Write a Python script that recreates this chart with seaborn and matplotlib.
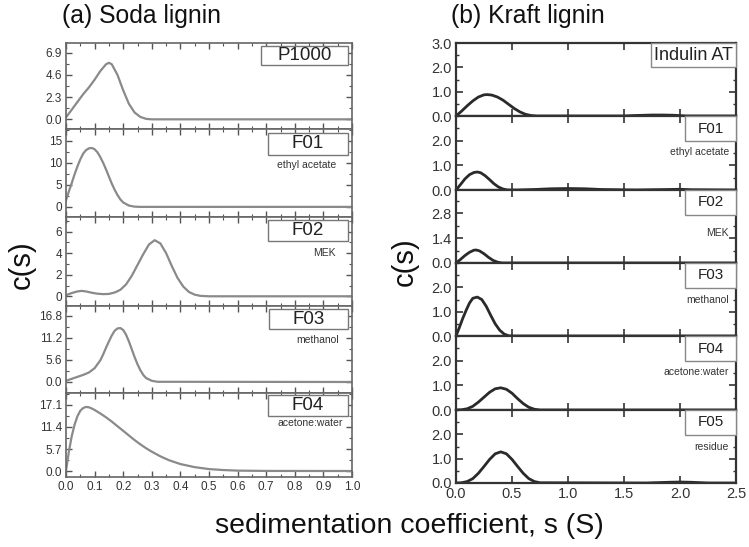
import numpy as np
import seaborn as sns
import matplotlib.pyplot as plt
from matplotlib.patches import Rectangle
from matplotlib.ticker import MultipleLocator, FixedLocator

sns.set_style("ticks")
plt.rcParams['font.family'] = ['Liberation Sans', 'DejaVu Sans']

# ---------------- (a) Soda lignin ----------------
soda_names = ['P1000', 'F01', 'F02', 'F03', 'F04']
soda_solvents = ['', 'ethyl acetate', 'MEK', 'methanol', 'acetone:water']

p1000_x = [0, 0.02, 0.04, 0.06, 0.08, 0.10, 0.12, 0.14, 0.15, 0.16, 0.18, 0.20,
           0.22, 0.24, 0.26, 0.28, 0.30, 0.35, 1.0]
p1000_y = [0.2, 1.0, 1.8, 2.6, 3.3, 4.1, 5.0, 5.7, 5.85, 5.7, 4.6, 3.0,
           1.6, 0.7, 0.25, 0.05, 0, 0, 0]

sf01_x = [0, 0.01, 0.02, 0.03, 0.04, 0.05, 0.06, 0.07, 0.08, 0.09, 0.10, 0.11,
          0.12, 0.13, 0.14, 0.15, 0.16, 0.17, 0.18, 0.19, 0.20, 0.22, 0.24, 0.26, 1.0]
sf01_y = [1.5, 3.5, 5.4, 7.4, 9.2, 10.8, 12.1, 12.9, 13.3, 13.4, 13.1, 12.4,
          11.3, 10.0, 8.5, 6.9, 5.3, 3.9, 2.7, 1.7, 1.0, 0.3, 0.05, 0, 0]

sf02_x = [0, 0.02, 0.04, 0.055, 0.07, 0.09, 0.11, 0.13, 0.15, 0.17, 0.19, 0.21,
          0.23, 0.25, 0.27, 0.29, 0.31, 0.33, 0.35, 0.37, 0.39, 0.41, 0.43, 0.45,
          0.47, 0.5, 1.0]
sf02_y = [0.1, 0.3, 0.45, 0.5, 0.45, 0.33, 0.24, 0.2, 0.22, 0.35, 0.6, 1.1,
          1.9, 2.9, 3.9, 4.8, 5.2, 4.9, 4.0, 2.8, 1.7, 0.9, 0.4, 0.15,
          0.04, 0, 0]

sf03_x = [0, 0.02, 0.04, 0.06, 0.08, 0.10, 0.12, 0.13, 0.14, 0.15, 0.16, 0.17,
          0.18, 0.19, 0.20, 0.21, 0.22, 0.23, 0.24, 0.25, 0.26, 0.27, 0.28, 0.30,
          0.32, 1.0]
sf03_y = [0.3, 0.8, 1.3, 1.8, 2.4, 3.5, 5.5, 7.0, 8.7, 10.3, 11.8, 13.0,
          13.6, 13.7, 13.2, 12.0, 10.3, 8.3, 6.3, 4.5, 3.0, 1.8, 1.0, 0.3,
          0.05, 0]

sf04_x = [0, 0.01, 0.02, 0.03, 0.04, 0.05, 0.06, 0.07, 0.08, 0.09, 0.10, 0.12,
          0.14, 0.16, 0.18, 0.20, 0.22, 0.24, 0.26, 0.28, 0.30, 0.33, 0.36, 0.40,
          0.45, 0.50, 0.55, 0.60, 0.70, 1.0]
sf04_y = [0.0, 5.0, 9.0, 12.0, 14.2, 15.6, 16.3, 16.6, 16.5, 16.2, 15.8, 14.9,
          13.9, 12.8, 11.6, 10.4, 9.2, 8.0, 6.9, 5.9, 5.0, 3.8, 2.8, 1.8,
          1.0, 0.5, 0.25, 0.1, 0.02, 0]

soda_x = [p1000_x, sf01_x, sf02_x, sf03_x, sf04_x]
soda_y = [p1000_y, sf01_y, sf02_y, sf03_y, sf04_y]
soda_yticks = [[0.0, 2.3, 4.6, 6.9], [0, 5, 10, 15], [0, 2, 4, 6],
               [0.0, 5.6, 11.2, 16.8], [0.0, 5.7, 11.4, 17.1]]
soda_ytick_labels = [['0.0', '2.3', '4.6', '6.9'], ['0', '5', '10', '15'],
                     ['0', '2', '4', '6'], ['0.0', '5.6', '11.2', '16.8'],
                     ['0.0', '5.7', '11.4', '17.1']]
soda_ylims = [(-1.0, 7.9), (-2.3, 17.7), (-0.9, 7.35), (-2.8, 19.3), (-1.55, 20.2)]
soda_xticks = [0.0, 0.1, 0.2, 0.3, 0.4, 0.5, 0.6, 0.7, 0.8, 0.9, 1.0]

# ---------------- (b) Kraft lignin ----------------
kraft_names = ['Indulin AT', 'F01', 'F02', 'F03', 'F04', 'F05']
kraft_solvents = ['', 'ethyl acetate', 'MEK', 'methanol', 'acetone:water', 'residue']

ind_x = [0, 0.05, 0.1, 0.15, 0.2, 0.25, 0.28, 0.32, 0.37, 0.42, 0.47, 0.52, 0.57,
         0.62, 0.67, 0.72, 0.8, 1.0, 1.2, 1.5, 1.6, 1.75, 1.85, 1.95, 2.05, 2.5]
ind_y = [0, 0.2, 0.42, 0.62, 0.78, 0.87, 0.88, 0.86, 0.78, 0.65, 0.48, 0.31, 0.17,
         0.07, 0.02, 0, 0, 0, 0, 0, 0.02, 0.04, 0.04, 0.03, 0, 0]

kf01_x = [0, 0.04, 0.08, 0.12, 0.16, 0.19, 0.22, 0.26, 0.30, 0.34, 0.38, 0.42, 0.46,
          0.55, 0.7, 0.85, 1.0, 1.15, 1.3, 1.6, 1.9, 2.0, 2.1, 2.5]
kf01_y = [0, 0.22, 0.45, 0.62, 0.71, 0.73, 0.7, 0.58, 0.42, 0.25, 0.12, 0.04, 0.0,
          0, 0.02, 0.05, 0.06, 0.05, 0.02, 0, 0.02, 0.03, 0.01, 0]

kf02_x = [0, 0.04, 0.08, 0.12, 0.16, 0.18, 0.21, 0.25, 0.29, 0.33, 0.37, 0.41, 2.5]
kf02_y = [0, 0.2, 0.42, 0.6, 0.72, 0.73, 0.68, 0.52, 0.32, 0.15, 0.05, 0, 0]

kf03_x = [0, 0.03, 0.06, 0.09, 0.12, 0.15, 0.19, 0.23, 0.27, 0.31, 0.35, 0.39,
          0.43, 0.47, 0.5, 2.5]
kf03_y = [0, 0.35, 0.72, 1.05, 1.35, 1.55, 1.6, 1.5, 1.22, 0.85, 0.5, 0.24,
          0.08, 0.01, 0, 0]

kf04_x = [0, 0.05, 0.1, 0.15, 0.2, 0.25, 0.3, 0.35, 0.4, 0.45, 0.5, 0.55, 0.6,
          0.65, 0.7, 0.75, 2.5]
kf04_y = [0, 0.01, 0.05, 0.15, 0.32, 0.52, 0.72, 0.86, 0.9, 0.84, 0.68, 0.46, 0.26,
          0.11, 0.03, 0, 0]

kf05_x = [0, 0.05, 0.1, 0.15, 0.2, 0.25, 0.3, 0.35, 0.4, 0.45, 0.5, 0.55, 0.6,
          0.65, 0.7, 0.75, 1.7, 1.9, 2.0, 2.1, 2.25, 2.5]
kf05_y = [0, 0.01, 0.06, 0.18, 0.4, 0.68, 0.97, 1.2, 1.28, 1.2, 0.97, 0.68, 0.4,
          0.18, 0.06, 0.01, 0, 0.03, 0.04, 0.03, 0, 0]

kraft_x = [ind_x, kf01_x, kf02_x, kf03_x, kf04_x, kf05_x]
kraft_y = [ind_y, kf01_y, kf02_y, kf03_y, kf04_y, kf05_y]
kraft_yticks = [[0.0, 1.0, 2.0, 3.0], [0.0, 1.0, 2.0], [0.0, 1.4, 2.8],
                [0.0, 1.0, 2.0], [0.0, 1.0, 2.0], [0.0, 1.0, 2.0]]
kraft_ylims = [(0, 3.0), (0, 3.0), (0, 4.1), (0, 3.0), (0, 3.0), (0, 3.0)]
kraft_xticks = [0.0, 0.5, 1.0, 1.5, 2.0, 2.5]

W, H = 749, 547
fig = plt.figure(figsize=(W / 100, H / 100), dpi=100)


def px_axes(x0, x1, y0, y1):
    return fig.add_axes([x0 / W, 1 - y1 / H, (x1 - x0) / W, (y1 - y0) / H])


def label_box(ax, x0, x1, y0, y1, text, size, lw, ec):
    ax.add_patch(Rectangle((x0, y0), x1 - x0, y1 - y0, transform=ax.transAxes,
                           facecolor='white', edgecolor=ec, lw=lw, zorder=3,
                           clip_on=False))
    ax.text((x0 + x1) / 2, (y0 + y1) / 2, text, transform=ax.transAxes,
            ha='center', va='center', fontsize=size, color='#222222', zorder=4)


# left column
soda_edges = [43, 129, 217, 306, 393, 477]
soda_box_y = [(0.744, 0.965), (0.705, 0.955), (0.73, 0.97), (0.736, 0.965), (0.726, 0.976)]
soda_box_x0 = [0.682, 0.706, 0.706, 0.71, 0.706]
soda_solv_pos = [None, (0.84, 0.59), (0.905, 0.60), (0.88, 0.61), (0.853, 0.64)]
for i in range(5):
    ax = px_axes(66, 352, soda_edges[i], soda_edges[i + 1])
    sns.lineplot(x=soda_x[i], y=soda_y[i], ax=ax, color='#8a8a8a', lw=1.6)
    ax.set_xlim(0, 1.0)
    ax.set_ylim(*soda_ylims[i])
    ax.xaxis.set_major_locator(FixedLocator(soda_xticks))
    ax.xaxis.set_minor_locator(MultipleLocator(0.05))
    ax.set_yticks(soda_yticks[i])
    ax.set_yticklabels(soda_ytick_labels[i])
    step = soda_yticks[i][1] - soda_yticks[i][0]
    ax.yaxis.set_minor_locator(MultipleLocator(step / 2))
    ax.tick_params(which='both', direction='in', top=True, right=True,
                   color='#555555', labelcolor='#333333', labelsize=8.5, pad=3)
    ax.tick_params(which='major', length=4, width=1)
    ax.tick_params(which='minor', length=2, width=0.8)
    for sp in ax.spines.values():
        sp.set_color('#666666')
        sp.set_linewidth(1.2)
    if i < 4:
        ax.set_xticklabels([])
    else:
        ax.set_xticklabels([f'{t:.1f}' for t in soda_xticks])
    ax.set_xlabel('')
    ax.set_ylabel('')
    label_box(ax, soda_box_x0[i], 0.986, soda_box_y[i][0], soda_box_y[i][1],
              soda_names[i], 13.5, 1.0, '#777777')
    if soda_solvents[i]:
        sx, sy = soda_solv_pos[i]
        ax.text(sx, sy, soda_solvents[i], transform=ax.transAxes, ha='center',
                va='center', fontsize=7.5, color='#333333')

# right column
kraft_edges = [43, 116, 190, 263, 336, 410, 483]
kraft_solv_y = [None, 0.51, 0.41, 0.50, 0.51, 0.49]
for i in range(6):
    ax = px_axes(456, 736, kraft_edges[i], kraft_edges[i + 1])
    sns.lineplot(x=kraft_x[i], y=kraft_y[i], ax=ax, color='#2a2a2a', lw=2.0)
    ax.set_xlim(0, 2.5)
    ax.set_ylim(*kraft_ylims[i])
    ax.xaxis.set_major_locator(FixedLocator(kraft_xticks))
    ax.set_yticks(kraft_yticks[i])
    ax.set_yticklabels([f'{t:.1f}' for t in kraft_yticks[i]])
    step = kraft_yticks[i][1] - kraft_yticks[i][0]
    ax.yaxis.set_minor_locator(MultipleLocator(step / 2))
    ax.tick_params(which='both', direction='in', top=True, right=True,
                   color='#333333', labelcolor='#333333', labelsize=10.5, pad=3)
    ax.tick_params(which='major', length=5, width=1.2)
    ax.tick_params(which='minor', length=2.5, width=1)
    for sp in ax.spines.values():
        sp.set_color('#333333')
        sp.set_linewidth(1.6)
    if i < 5:
        ax.set_xticklabels([])
    else:
        ax.set_xticklabels([f'{t:.1f}' for t in kraft_xticks])
    ax.set_xlabel('')
    ax.set_ylabel('')
    if i == 0:
        label_box(ax, 0.696, 1.0, 0.67, 1.0, kraft_names[i], 13, 1.0, '#888888')
    else:
        label_box(ax, 0.818, 1.0, 0.66, 1.0, kraft_names[i], 11, 1.0, '#888888')
        ax.text(0.975, kraft_solv_y[i], kraft_solvents[i], transform=ax.transAxes,
                ha='right', va='center', fontsize=7.5, color='#333333')

# titles and axis labels
fig.text(62 / W, 1 - 16 / H, '(a) Soda lignin', fontsize=17.8, ha='left', va='center',
         color='#111111')
fig.text(451 / W, 1 - 16 / H, '(b) Kraft lignin', fontsize=17.8, ha='left', va='center',
         color='#111111')
fig.text(22 / W, 1 - 265 / H, 'c(s)', fontsize=21, rotation=90, ha='center',
         va='center', color='#111111')
fig.text(405 / W, 1 - 262 / H, 'c(s)', fontsize=21, rotation=90, ha='center',
         va='center', color='#111111')
fig.text(409 / W, 1 - 526 / H, 'sedimentation coefficient, s (S)', fontsize=20.5,
         ha='center', va='center', color='#111111')

fig.savefig('out.png', dpi=100)
